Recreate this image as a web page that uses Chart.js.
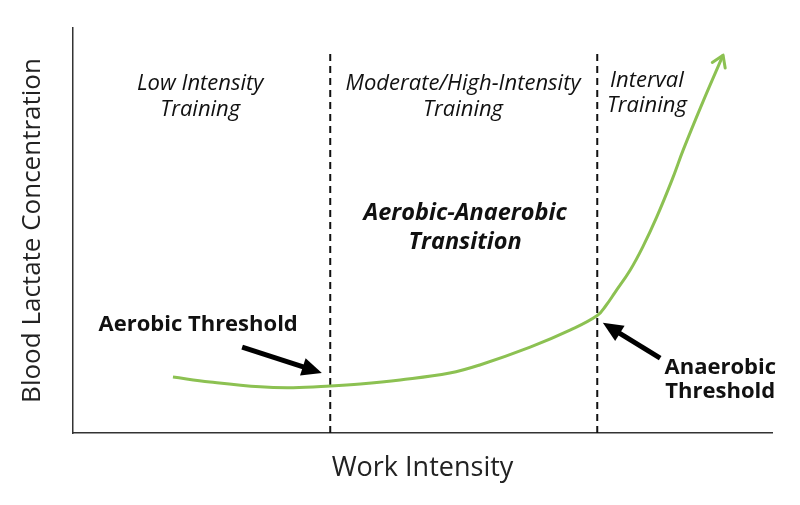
<!DOCTYPE html>
<html>
<head>
<meta charset="utf-8">
<script src="https://cdn.jsdelivr.net/npm/chart.js@4"></script>
<style>
html,body{margin:0;padding:0;background:#fff;}
</style>
</head>
<body>
<canvas id="c" width="800" height="505"></canvas>
<script>
// Data (work intensity 0-100, lactate 0-100)
const curveX = [14.3, 19.6, 26.8, 31.5, 36.8, 41.1, 46.8, 53.9, 58.2, 65.4, 71.1, 75.0, 76.3, 77.5, 79.7, 81.5, 83.5, 85.7, 87.3, 90.1, 93.0];
const curveY = [13.8, 12.6, 11.4, 11.2, 11.6, 12.1, 13.1, 14.8, 16.8, 21.2, 25.4, 29.0, 31.6, 34.6, 40.2, 45.9, 53.3, 62.5, 69.9, 81.7, 93.3];
const thresholdX = [36.8, 75.0];
const thresholdTop = 94.6;
const xTitle = 'Work Intensity';
const yTitle = 'Blood Lactate Concentration';

const labels = [
  {text: 'Low Intensity', x: 18.2, y: 86.2, style: 'italic', weight: '400', size: 22},
  {text: 'Training', x: 18.2, y: 79.8, style: 'italic', weight: '400', size: 22},
  {text: 'Moderate/High-Intensity', x: 55.8, y: 86.2, style: 'italic', weight: '400', size: 22},
  {text: 'Training', x: 55.8, y: 79.8, style: 'italic', weight: '400', size: 22},
  {text: 'Interval', x: 82.1, y: 87.0, style: 'italic', weight: '400', size: 22},
  {text: 'Training', x: 82.1, y: 80.8, style: 'italic', weight: '400', size: 22},
  {text: 'Aerobic-Anaerobic', x: 56.1, y: 54.3, style: 'italic', weight: '700', size: 23.5},
  {text: 'Transition', x: 56.1, y: 47.2, style: 'italic', weight: '700', size: 23.5},
  {text: 'Aerobic Threshold', x: 17.9, y: 26.7, style: 'normal', weight: '700', size: 22},
  {text: 'Anaerobic', x: 92.6, y: 16.0, style: 'normal', weight: '700', size: 22},
  {text: 'Threshold', x: 92.6, y: 10.1, style: 'normal', weight: '700', size: 22}
];
const arrows = [
  {x1: 24.2, y1: 21.2, x2: 35.6, y2: 14.8},
  {x1: 84.0, y1: 18.5, x2: 75.8, y2: 27.2}
];

const green = '#8cc152';
const FONT = "'Open Sans', 'Noto Sans', sans-serif";

const curveData = curveX.map((x, i) => ({x, y: curveY[i]}));
const thresholdSets = thresholdX.map(x => ({
  data: [{x, y: 0}, {x, y: thresholdTop}],
  borderColor: '#111',
  borderWidth: 2,
  borderDash: [7, 5],
  pointRadius: 0,
  showLine: true,
  tension: 0,
  fill: false
}));

const overlay = {
  id: 'overlay',
  afterDatasetsDraw(chart) {
    const ctx = chart.ctx;
    const xs = chart.scales.x, ys = chart.scales.y;
    const meta = chart.getDatasetMeta(0);
    const pts = meta.data;
    const p1 = pts[pts.length - 2], p2 = pts[pts.length - 1];
    let ang = Math.atan2(p2.y - p1.y, p2.x - p1.x);
    if (p2.cp1x !== undefined && (p2.cp1x !== p2.x || p2.cp1y !== p2.y)) ang = Math.atan2(p2.y - p2.cp1y, p2.x - p2.cp1x);
    ctx.save();
    ctx.strokeStyle = green;
    ctx.lineWidth = 3;
    ctx.lineCap = 'round';
    ctx.lineJoin = 'round';
    const L = 13, a = Math.PI / 5.5;
    ctx.beginPath();
    ctx.moveTo(p2.x - L * Math.cos(ang - a), p2.y - L * Math.sin(ang - a));
    ctx.lineTo(p2.x, p2.y);
    ctx.lineTo(p2.x - L * Math.cos(ang + a), p2.y - L * Math.sin(ang + a));
    ctx.stroke();
    ctx.restore();

    arrows.forEach(ar => {
      const x1 = xs.getPixelForValue(ar.x1), y1 = ys.getPixelForValue(ar.y1);
      const x2 = xs.getPixelForValue(ar.x2), y2 = ys.getPixelForValue(ar.y2);
      const t = Math.atan2(y2 - y1, x2 - x1);
      const hl = 20, hw = 9;
      const bx = x2 - hl * Math.cos(t), by = y2 - hl * Math.sin(t);
      ctx.save();
      ctx.strokeStyle = '#000';
      ctx.fillStyle = '#000';
      ctx.lineWidth = 5;
      ctx.beginPath();
      ctx.moveTo(x1, y1);
      ctx.lineTo(bx + 2 * Math.cos(t), by + 2 * Math.sin(t));
      ctx.stroke();
      ctx.beginPath();
      ctx.moveTo(x2, y2);
      ctx.lineTo(bx + hw * Math.sin(t), by - hw * Math.cos(t));
      ctx.lineTo(bx - hw * Math.sin(t), by + hw * Math.cos(t));
      ctx.closePath();
      ctx.fill();
      ctx.restore();
    });

    labels.forEach(l => {
      ctx.save();
      ctx.font = `${l.style} ${l.weight} ${l.size}px ${FONT}`;
      ctx.fillStyle = '#111';
      ctx.textAlign = 'center';
      ctx.textBaseline = 'middle';
      ctx.fillText(l.text, xs.getPixelForValue(l.x), ys.getPixelForValue(l.y));
      ctx.restore();
    });
  }
};

new Chart(document.getElementById('c'), {
  type: 'scatter',
  data: {
    datasets: [{
      data: curveData,
      borderColor: green,
      borderWidth: 3,
      pointRadius: 0,
      showLine: true,
      tension: 0.4,
      fill: false
    }, ...thresholdSets]
  },
  options: {
    responsive: false,
    animation: false,
    devicePixelRatio: 1,
    layout: {padding: {top: 28, right: 28, left: 0, bottom: 0}},
    plugins: {legend: {display: false}, tooltip: {enabled: false}},
    scales: {
      x: {
        type: 'linear', min: 0, max: 100,
        grid: {display: false},
        border: {display: true, color: '#333', width: 1.5},
        ticks: {display: false},
        title: {display: true, text: xTitle, color: '#222', font: {family: FONT, size: 27}, padding: {top: 10, bottom: 20}},
        afterFit(s) { s.height = 72; }
      },
      y: {
        type: 'linear', min: 0, max: 100,
        grid: {display: false},
        border: {display: true, color: '#333', width: 1.5},
        ticks: {display: false},
        title: {display: true, text: yTitle, color: '#222', font: {family: FONT, size: 26}, padding: {top: 17, bottom: 4}},
        afterFit(s) { s.width = 73; }
      }
    }
  },
  plugins: [overlay]
});
</script>
</body>
</html>
